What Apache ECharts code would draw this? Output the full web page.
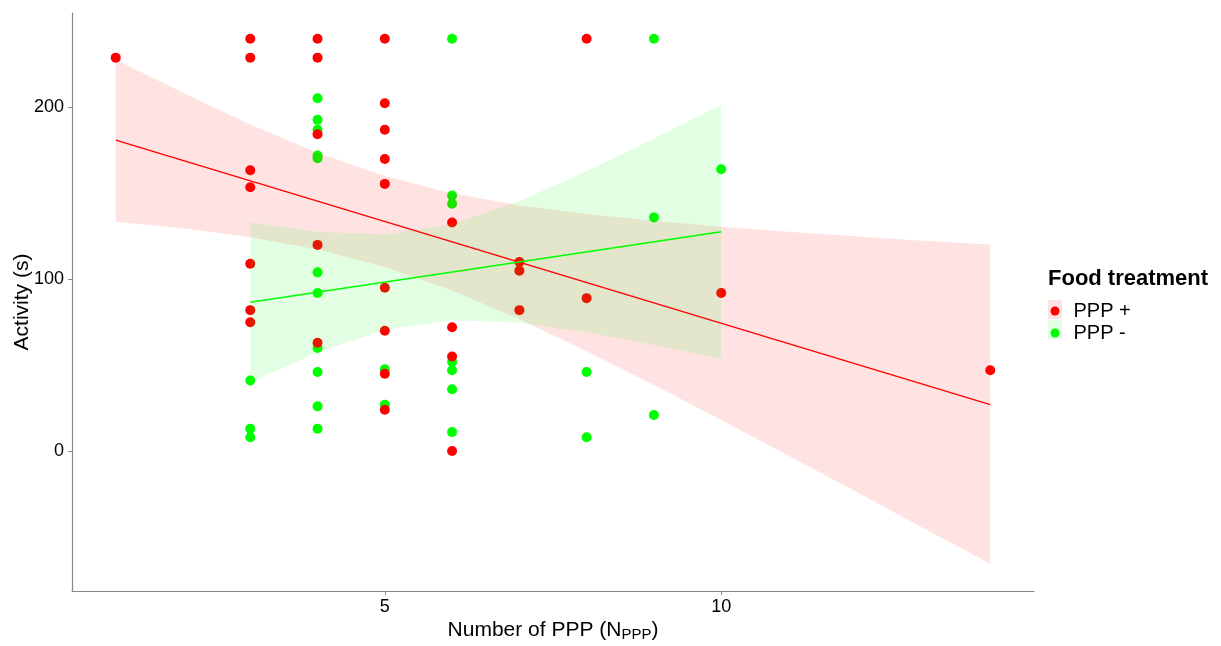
<!DOCTYPE html>
<html>
<head>
<meta charset="utf-8">
<script src="https://cdn.jsdelivr.net/npm/echarts@6/dist/echarts.min.js"></script>
<style>
html,body{margin:0;padding:0;background:#fff;}
#chart{width:1221px;height:646px;}
</style>
</head>
<body>
<div id="chart"></div>
<script>
// ---- data ----
const plusX = [1, 3,3,3,3,3,3,3, 4,4,4,4,4, 5,5,5,5,5,5,5,5,5, 6,6,6,6, 7,7,7, 8,8, 10, 14];
const plusY = [229, 240,229,163.5,153.6,109,82,75, 240,229,184.4,120,63, 240,202.5,187,170,155.5,95,70,45,24, 133,72,55,0, 110,105,82, 240,89, 92, 47];
const minusX = [3,3,3, 4,4,4,4,4,4,4,4,4,4,4, 5,5, 6,6,6,6,6,6,6, 8,8, 9,9,9, 10];
const minusY = [41,13,8, 205.4,192.8,187,172,170.5,104,92,60,46,26,13, 47.6,27, 240,148.7,144,52,47,36,11, 46,8, 240,136,21, 164];

// fitted lines (end points)
const plusFitX = [1, 14];
const plusFitY = [181, 27];
const minusFitX = [3, 10];
const minusFitY = [86.6, 127.7];

// confidence ribbons
const plusBandX = [1,2,3,4,5,6,7,8,9,10,11,12,13,14];
const plusLower = [133.5,129.7,124.5,117.3,107.1,93.4,76.7,58.1,38.4,18,-2.7,-23.6,-44.8,-65.7];
const plusUpper = [228,208.6,190.1,173.6,160.1,150,143.1,138,134,130.5,127.7,125,122.4,120.2];
const minusBandX = [3,4,5,6,7,8,9,10];
const minusLower = [40,57.3,70.5,76.3,74.7,69.1,61.7,53.6];
const minusUpper = [133.2,127.7,126.1,132.1,145.5,162.9,181.9,201.8];

const xTicks = [5, 10];
const yTicks = [0, 100, 200];
const legendNames = ['PPP +', 'PPP -'];

const RED = '#FF0000', GREEN = '#00FF00';
const FONT = '"Liberation Sans", Arial, sans-serif';

function zipXY(xs, ys){ return xs.map((x,i)=>[x, ys[i]]); }

function bandSeries(name, xs, lo, hi, color){
  const data = xs.map((x,i)=>[x, lo[i], hi[i]]);
  return {
    type: 'custom', name: name, z: 3, silent: true, clip: true,
    data: data,
    encode: {x: 0, y: [1,2]},
    renderItem: function(params, api){
      if (params.dataIndex !== 0) return null;
      const pts = [];
      for (let i = 0; i < data.length; i++) pts.push(api.coord([data[i][0], data[i][2]]));
      for (let i = data.length - 1; i >= 0; i--) pts.push(api.coord([data[i][0], data[i][1]]));
      return {type: 'polygon', shape: {points: pts}, style: {fill: color, stroke: null}};
    }
  };
}

const chart = echarts.init(document.getElementById('chart'), null, {renderer: 'canvas'});
chart.setOption({
  animation: false,
  backgroundColor: '#fff',
  textStyle: {fontFamily: FONT},
  grid: {left: 72, right: 187, top: 13, bottom: 55, containLabel: false, outerBoundsMode: 'none'},
  title: {
    text: 'Food treatment', left: 1048, top: 268, padding: 0,
    textStyle: {fontFamily: FONT, fontSize: 22, fontWeight: 'bold', color: '#000'}
  },
  legend: {
    data: legendNames, orient: 'vertical', left: 1050.5, top: 301, padding: 0,
    icon: 'circle', itemWidth: 9, itemHeight: 9, itemGap: 2,
    textStyle: {fontFamily: FONT, fontSize: 20, color: '#000', padding: [0,0,0,9]}
  },
  graphic: [
    {type: 'rect', left: 1048, top: 300, shape: {width: 14, height: 19}, style: {fill: 'rgba(255,0,0,0.11)'}, z: -1},
    {type: 'rect', left: 1048, top: 320, shape: {width: 14, height: 19}, style: {fill: 'rgba(0,255,0,0.11)'}, z: -1}
  ],
  xAxis: {
    type: 'value', min: 0.35, max: 14.65,
    name: '{a|Number of PPP (N}{b|PPP}{a|)}', nameLocation: 'middle', nameGap: 27,
    nameMoveOverlap: false,
    nameTextStyle: {rich: {
      a: {fontFamily: FONT, fontSize: 21, color: '#000'},
      b: {fontFamily: FONT, fontSize: 15, color: '#000', padding: [9,0,0,0]}
    }},
    axisLine: {show: true, onZero: false, lineStyle: {color: '#888', width: 1.2}},
    axisTick: {show: true, length: 4, lineStyle: {color: '#888'}, customValues: xTicks},
    axisLabel: {fontFamily: FONT, fontSize: 18, color: '#000', margin: 7, customValues: xTicks},
    splitLine: {show: false}
  },
  yAxis: {
    type: 'value', min: -81.5, max: 255,
    name: 'Activity (s)', nameLocation: 'middle', nameGap: 39, nameRotate: 90,
    nameMoveOverlap: false,
    nameTextStyle: {fontFamily: FONT, fontSize: 21, color: '#000'},
    axisLine: {show: true, onZero: false, lineStyle: {color: '#888', width: 1.2}},
    axisTick: {show: true, length: 4, lineStyle: {color: '#888'}, customValues: yTicks},
    axisLabel: {fontFamily: FONT, fontSize: 18, color: '#000', margin: 8, customValues: yTicks},
    splitLine: {show: false}
  },
  series: [
    {type: 'scatter', name: 'PPP -', data: zipXY(minusX, minusY), symbolSize: 10, z: 1,
     itemStyle: {color: GREEN, opacity: 1}},
    {type: 'scatter', name: 'PPP +', data: zipXY(plusX, plusY), symbolSize: 10, z: 2,
     itemStyle: {color: RED, opacity: 1}},
    bandSeries('bandPlus', plusBandX, plusLower, plusUpper, 'rgba(255,0,0,0.11)'),
    bandSeries('bandMinus', minusBandX, minusLower, minusUpper, 'rgba(0,255,0,0.11)'),
    {type: 'line', name: 'fitPlus', data: zipXY(plusFitX, plusFitY), symbol: 'none', z: 5,
     lineStyle: {color: RED, width: 1.5}, silent: true},
    {type: 'line', name: 'fitMinus', data: zipXY(minusFitX, minusFitY), symbol: 'none', z: 5,
     lineStyle: {color: GREEN, width: 1.5}, silent: true}
  ]
});
</script>
</body>
</html>
